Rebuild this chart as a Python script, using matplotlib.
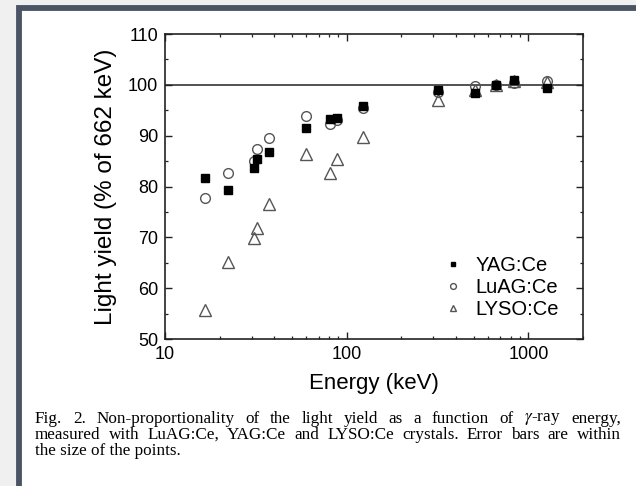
import matplotlib.pyplot as plt
from matplotlib.patches import Rectangle
from matplotlib.ticker import LogLocator, MultipleLocator, NullFormatter, FixedFormatter, FixedLocator

plt.rcParams["font.family"] = ["Liberation Sans", "DejaVu Sans"]
plt.rcParams["mathtext.fontset"] = "stix"

# Datos
yag_e = [16.6, 22.1, 30.9, 32.1, 37.6, 59.8, 81.0, 88.9, 122.7, 320, 511, 662, 835, 1275]
yag_ly = [81.7, 79.3, 83.6, 85.4, 86.7, 91.6, 93.2, 93.4, 95.9, 99.0, 98.4, 100.0, 101.0, 99.3]

luag_e = [16.6, 22.1, 30.9, 32.1, 37.6, 59.8, 81.0, 88.9, 122.7, 320, 511, 662, 835, 1275]
luag_ly = [77.8, 82.6, 85.0, 87.3, 89.5, 93.8, 92.3, 93.0, 95.5, 98.5, 99.7, 100.0, 100.3, 100.8]

lyso_e = [16.6, 22.1, 30.9, 32.1, 37.6, 59.8, 81.0, 88.9, 122.7, 320, 511, 662, 835, 1275]
lyso_ly = [55.7, 65.1, 69.9, 71.8, 76.6, 86.4, 82.7, 85.4, 89.7, 97.0, 99.0, 100.0, 100.8, 100.5]

x_ticks = [10, 100, 1000]
x_labels = ["10", "100", "1000"]
y_ticks = [50, 60, 70, 80, 90, 100, 110]

caption = [
    "Fig. 2.  Non-proportionality of the light yield as a function of $\\gamma$-ray energy,",
    "measured with LuAG:Ce, YAG:Ce and LYSO:Ce crystals. Error bars are within",
    "the size of the points.",
]

W, H = 636, 486
fig = plt.figure(figsize=(W / 100, H / 100), dpi=100)
fig.patch.set_facecolor("#f0f0f0")

# Marco de la pagina
fig.patches.append(Rectangle((18.5 / W, -0.1), 1.2, 1 - 8 / H + 0.1,
                             transform=fig.transFigure, facecolor="white",
                             edgecolor="#4a5464", linewidth=4.2, zorder=-5))

ax = fig.add_axes([165 / W, 1 - 339 / H, (583 - 165) / W, (339 - 34) / H])
ax.patch.set_alpha(0)
ax.set_xscale("log")
ax.set_xlim(10, 2000)
ax.set_ylim(50, 110)

ax.axhline(100, color="#444444", lw=1.3, zorder=1)

ax.plot(lyso_e, lyso_ly, linestyle="none", marker="^", markersize=8,
        markerfacecolor="none", markeredgecolor="#555555", markeredgewidth=1.0,
        label="LYSO:Ce", zorder=2)
ax.plot(luag_e, luag_ly, linestyle="none", marker="o", markersize=7,
        markerfacecolor="none", markeredgecolor="#555555", markeredgewidth=1.0,
        label="LuAG:Ce", zorder=3)
ax.plot(yag_e, yag_ly, linestyle="none", marker="s", markersize=6,
        color="black", label="YAG:Ce", zorder=4)

ax.xaxis.set_major_locator(FixedLocator(x_ticks))
ax.xaxis.set_major_formatter(FixedFormatter(x_labels))
ax.xaxis.set_minor_locator(LogLocator(base=10, subs=range(2, 10)))
ax.xaxis.set_minor_formatter(NullFormatter())
ax.set_yticks(y_ticks)
ax.yaxis.set_minor_locator(MultipleLocator(5))

ax.tick_params(which="both", direction="in", top=True, right=True,
               color="#222222", labelsize=13)
ax.tick_params(which="major", length=5, width=1.0, pad=5)
ax.tick_params(which="minor", length=2.5, width=0.9)
for s in ax.spines.values():
    s.set_color("#222222")
    s.set_linewidth(1.2)

ax.set_xlabel("Energy (keV)", fontsize=16, labelpad=7)
ax.set_ylabel("Light yield (% of 662 keV)", fontsize=17.5, labelpad=8)

handles, labels = ax.get_legend_handles_labels()
order = [2, 1, 0]
leg = ax.legend([handles[i] for i in order], [labels[i] for i in order],
                loc="lower right", bbox_to_anchor=(1 - 8 / 418, 4 / 305),
                frameon=False, fontsize=14.5, markerscale=0.6,
                handlelength=0.8, handletextpad=0.7, labelspacing=0.15,
                borderaxespad=0.5, borderpad=0.3)

# Leyenda de la figura (texto justificado)
fig.canvas.draw()
renderer = fig.canvas.get_renderer()
x0, x1 = 35 / W, 621 / W
ys = [419, 435, 451]
fs = 12.3
for i, line in enumerate(caption):
    yy = 1 - ys[i] / H
    if i == len(caption) - 1:
        fig.text(x0, yy, line, fontsize=fs, family="Liberation Serif", va="center")
        continue
    words = [w for w in line.split(" ") if w != ""]
    texts = [fig.text(0, yy, w, fontsize=fs, family="Liberation Serif", va="center") for w in words]
    widths = [t.get_window_extent(renderer).width / W for t in texts]
    gap = (x1 - x0 - sum(widths)) / (len(words) - 1)
    pos = x0
    for t, w in zip(texts, widths):
        t.set_x(pos)
        pos += w + gap

fig.savefig("out.png", dpi=100, facecolor=fig.get_facecolor())
